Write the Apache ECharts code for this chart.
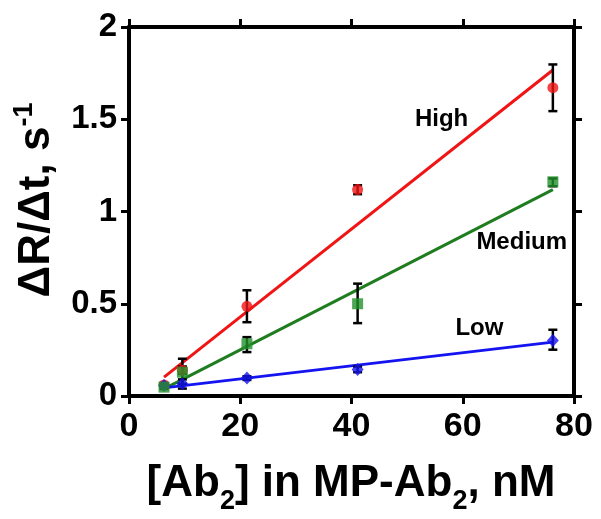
<!DOCTYPE html>
<html><head><meta charset="utf-8">
<script src="https://cdn.jsdelivr.net/npm/echarts@6/dist/echarts.min.js"></script>
<style>html,body{margin:0;padding:0;background:#fff}#c{width:601px;height:519px}</style>
</head><body><div id="c"></div>
<script>
// ---- data ----
const xValues = [6.3, 9.6, 21.2, 41.1, 76.2];
const highY    = [0.06, 0.14, 0.486, 1.119, 1.671];
const highLow  = [0.05, 0.12, 0.40, 1.094, 1.544];
const highHigh = [0.07, 0.16, 0.573, 1.142, 1.797];
const medY     = [0.048, 0.129, 0.283, 0.500, 1.161];
const medLow   = [0.038, 0.066, 0.238, 0.395, 1.137];
const medHigh  = [0.058, 0.202, 0.319, 0.609, 1.179];
const lowY     = [0.057, 0.066, 0.097, 0.144, 0.301];
const lowLow   = [0.047, 0.040, 0.087, 0.129, 0.251];
const lowHigh  = [0.067, 0.090, 0.107, 0.159, 0.359];
const fitX    = [6.3, 76.2];
const highFit = [0.102, 1.767];
const medFit  = [0.039, 1.119];
const lowFit  = [0.044, 0.292];
const seriesLabels = ['High', 'Medium', 'Low'];
const labelX = [56.2, 70.6, 63.0];
const labelY = [1.50, 0.833, 0.366];

const FONT = 'Liberation Sans';
const RED = '#f01414', GREEN = '#1f7d1f', BLUE = '#1414f0';
const GREEN_M = '#22912a';

function pts(xs, ys){ return xs.map((x,i)=>[x, ys[i]]); }
function errs(xs, lo, hi){ return xs.map((x,i)=>[x, lo[i], hi[i]]); }

function errRender(params, api){
  const x = api.value(0);
  const lo = api.coord([x, api.value(1)]);
  const hi = api.coord([x, api.value(2)]);
  const cap = 4.5;
  const st = {stroke:'#000', lineWidth:2.5};
  return {type:'group', children:[
    {type:'line', shape:{x1:lo[0],y1:lo[1],x2:hi[0],y2:hi[1]}, style:st},
    {type:'line', shape:{x1:lo[0]-cap,y1:lo[1],x2:lo[0]+cap,y2:lo[1]}, style:st},
    {type:'line', shape:{x1:hi[0]-cap,y1:hi[1],x2:hi[0]+cap,y2:hi[1]}, style:st}
  ]};
}

const axisCommon = {
  axisLine:{show:true, onZero:false, lineStyle:{color:'#000', width:4}},
  axisTick:{show:true, inside:false, length:8, lineStyle:{color:'#000', width:3}},
  splitLine:{show:false}
};

const chart = echarts.init(document.getElementById('c'), null, {renderer:'canvas'});
chart.setOption({
  animation:false,
  backgroundColor:'#fff',
  grid:{left:129, right:27, top:27, bottom:123},
  xAxis:[
    Object.assign({type:'value', position:'bottom', min:0, max:80, interval:20,
      axisLabel:{color:'#000', fontFamily:FONT, fontWeight:'bold', fontSize:34, margin:14}}, axisCommon),
    Object.assign({type:'value', position:'top', min:0, max:80, interval:20,
      axisLabel:{show:false}}, axisCommon)
  ],
  yAxis:[
    Object.assign({type:'value', position:'left', min:0, max:2, interval:0.5,
      axisLabel:{color:'#000', fontFamily:FONT, fontWeight:'bold', fontSize:33, margin:12}}, axisCommon),
    Object.assign({type:'value', position:'right', min:0, max:2, interval:0.5,
      axisLabel:{show:false}}, axisCommon)
  ],
  series:[
    {type:'line', data:pts(fitX, highFit), symbol:'none', lineStyle:{color:RED, width:3}, z:2},
    {type:'line', data:pts(fitX, medFit), symbol:'none', lineStyle:{color:GREEN, width:3}, z:2},
    {type:'line', data:pts(fitX, lowFit), symbol:'none', lineStyle:{color:BLUE, width:3}, z:2},
    {type:'custom', renderItem:errRender, data:errs(xValues, highLow, highHigh), encode:{x:0, y:[1,2]}, z:3},
    {type:'custom', renderItem:errRender, data:errs(xValues, lowLow, lowHigh), encode:{x:0, y:[1,2]}, z:3},
    {type:'custom', renderItem:errRender, data:errs(xValues, medLow, medHigh), encode:{x:0, y:[1,2]}, z:3},
    {type:'scatter', data:pts(xValues, highY), symbol:'circle', symbolSize:11, itemStyle:{color:RED}, z:4},
    {type:'scatter', data:pts(xValues, lowY), symbol:'diamond', symbolSize:[12,13], itemStyle:{color:BLUE}, z:5},
    {type:'scatter', data:pts(xValues, medY), symbol:'rect', symbolSize:11, itemStyle:{color:GREEN_M}, z:6}
  ]
});

// titles and series labels as graphic text; label positions converted from data coordinates
const graphics = [
  {type:'text', x:351, y:484, z:10,
    style:{text:'{m|[Ab}{s|2}{m|] in MP-Ab}{s|2}{m|, nM}', align:'center', verticalAlign:'middle',
      rich:{
        m:{fontFamily:FONT, fontWeight:'bold', fontSize:44, fill:'#000', color:'#000'},
        s:{fontFamily:FONT, fontWeight:'bold', fontSize:27, padding:[36,0,0,0], fill:'#000', color:'#000'}
      }}},
  {type:'text', x:37, y:200, rotation:Math.PI/2, z:10,
    style:{text:'{m|ΔR/Δt, s}{p|-1}', align:'center', verticalAlign:'middle',
      rich:{
        m:{fontFamily:FONT, fontWeight:'bold', fontSize:44, fill:'#000', color:'#000'},
        p:{fontFamily:FONT, fontWeight:'bold', fontSize:27, padding:[0,0,24,0], fill:'#000', color:'#000'}
      }}}
];
seriesLabels.forEach((n,i)=>{
  const p = chart.convertToPixel({gridIndex:0}, [labelX[i], labelY[i]]);
  graphics.push({type:'text', x:p[0], y:p[1], z:10,
    style:{text:n, align:'center', verticalAlign:'middle', fill:'#000',
      font:'bold 24px "Liberation Sans"'}});
});
chart.setOption({graphic:graphics});
</script></body></html>
